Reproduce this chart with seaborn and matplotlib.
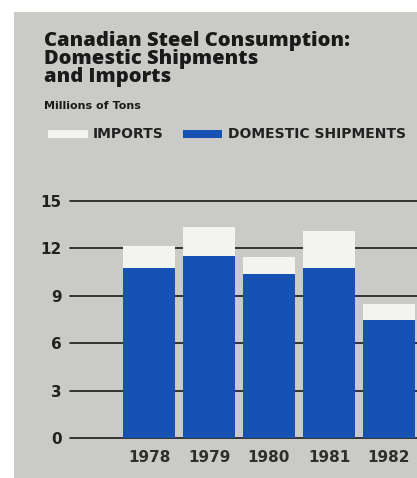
import matplotlib
matplotlib.use("Agg")
import matplotlib.pyplot as plt
from matplotlib.patches import Rectangle
import seaborn as sns
import pandas as pd

# values, millions of tons
years = ["1978", "1979", "1980", "1981", "1982"]
domestic = [10.75, 11.5, 10.4, 10.75, 7.5]
imports = [1.4, 1.85, 1.05, 2.35, 1.0]
yticks = [0, 3, 6, 9, 12, 15]

BG = "#cacac7"
BLUE = "#1652b4"
WHITE = "#f3f3ef"

df = pd.DataFrame({"year": years, "domestic": domestic, "imports": imports})
df["total"] = df["domestic"] + df["imports"]

sns.set_style("white")
plt.rcParams["font.family"] = ["DejaVu Sans"]

W, H = 417, 478
fig = plt.figure(figsize=(W / 100, H / 100), dpi=100)
fig.patch.set_facecolor("white")
# grey card behind everything
fig.patches.append(Rectangle((14 / W, 0), 1, (H - 12) / H, transform=fig.transFigure,
                             facecolor=BG, edgecolor="none", zorder=-5))

ax = fig.add_axes([70 / W, (H - 438) / H, (W - 70) / W, (438 - 201) / H])
ax.set_facecolor("none")
ax.set_zorder(2)

# gridlines behind the bars
for v in yticks:
    ax.axhline(v, color="#1a1a1a", lw=1.2, zorder=1, clip_on=False)

sns.barplot(data=df, x="year", y="total", color=WHITE, width=0.86, saturation=1,
            linewidth=0, ax=ax, zorder=2)
sns.barplot(data=df, x="year", y="domestic", color=BLUE, width=0.86, saturation=1,
            linewidth=0, ax=ax, zorder=3)

ax.set_ylim(0, 15)
ax.set_xlim(-1.317, 4.467)
ax.set_yticks(yticks)
ax.set_yticklabels([str(v) for v in yticks], fontsize=11, fontweight="bold", color="#222222")
ax.tick_params(axis="y", length=0, pad=6)
ax.tick_params(axis="x", length=0, pad=9, labelsize=11, labelcolor="#2e2e2e")
for t in ax.get_xticklabels():
    t.set_fontweight("bold")
ax.set_xlabel("")
ax.set_ylabel("")
for s in ax.spines.values():
    s.set_visible(False)

# title block
title = ["Canadian Steel Consumption:", "Domestic Shipments", "and Imports"]
for i, line in enumerate(title):
    fig.text(44 / W, 1 - (46 + 18 * i) / H, line, fontsize=14.5, fontweight="heavy",
             color="#1a1a1a", va="baseline", ha="left", family=["Open Sans", "DejaVu Sans"])
fig.text(44 / W, 1 - 109 / H, "Millions of Tons", fontsize=8, fontweight="bold",
         color="#1a1a1a", va="baseline", ha="left")

# legend
fig.patches.append(Rectangle((48 / W, 1 - 138 / H), 40 / W, 8 / H, transform=fig.transFigure,
                             facecolor=WHITE, edgecolor="none", zorder=1))
fig.text(93 / W, 1 - 134 / H, "IMPORTS", fontsize=10, fontweight="bold",
         color="#222222", va="center", ha="left")
fig.patches.append(Rectangle((183 / W, 1 - 138 / H), 39 / W, 8 / H, transform=fig.transFigure,
                             facecolor=BLUE, edgecolor="none", zorder=1))
fig.text(228 / W, 1 - 134 / H, "DOMESTIC SHIPMENTS", fontsize=10, fontweight="bold",
         color="#222222", va="center", ha="left")

fig.savefig("out.png", dpi=100)
